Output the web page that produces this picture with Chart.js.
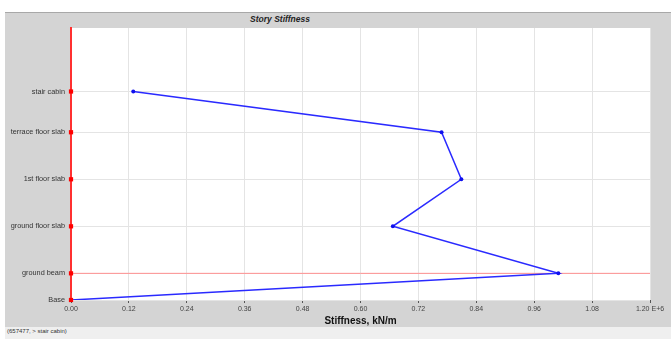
<!DOCTYPE html>
<html>
<head>
<meta charset="utf-8">
<script src="https://cdn.jsdelivr.net/npm/chart.js@4.4.1/dist/chart.umd.min.js"></script>
<style>
    html, body { margin: 0; padding: 0; background: #ffffff; width: 671px; height: 339px; overflow: hidden; }
    #panel { position: absolute; left: 5px; top: 12px; width: 666px; height: 315px; background: #d4d4d4; border-top: 1px solid #a8a8a8; box-sizing: border-box; }
    #status { position: absolute; left: 5px; top: 327px; width: 666px; height: 12px; background: #efefef; font: 6px "Liberation Sans", Arial, sans-serif; color: #333; padding-left: 2px; line-height: 9px; box-sizing: border-box; }
    #title { position: absolute; top: 14px; left: 230px; width: 100px; text-align: center; font: italic bold 8.5px "Liberation Sans", Arial, sans-serif; color: #222; }
    #chart { position: absolute; left: 0; top: 0; }
</style>
</head>
<body>
<div id="panel"></div>
<div id="title">Story Stiffness</div>
<div id="status">(657477, &gt; stair cabin)</div>
<canvas id="chart" width="671" height="339"></canvas>
<script>
// story names, bottom to top, and their elevations (m)
const storyNames = ['Base', 'ground beam', 'ground floor slab', '1st floor slab', 'terrace floor slab', 'stair cabin'];
const storyElevations = [0, 1.7, 4.7, 7.7, 10.7, 13.3];
// story stiffness, kN/m
const stiffness = [0, 1010000, 667000, 809000, 768000, 129000];
const xTickValues = [0, 120000, 240000, 360000, 480000, 600000, 720000, 840000, 960000, 1080000, 1200000];

const FONT = '"Liberation Sans", Arial, sans-serif';

// white plot background
const plotBackground = {
    id: 'plotBackground',
    beforeDraw(chart) {
        const { ctx, chartArea: a } = chart;
        ctx.save();
        ctx.fillStyle = '#ffffff';
        ctx.fillRect(a.left, a.top, a.right - a.left, a.bottom - a.top);
        ctx.restore();
    }
};

const stiffPoints = storyElevations.map((y, i) => ({ x: stiffness[i], y: y }));
const basePoints = storyElevations.map(y => ({ x: 0, y: y }));
const beamLine = [
    { x: xTickValues[0], y: storyElevations[1] },
    { x: xTickValues[xTickValues.length - 1], y: storyElevations[1] }
];

new Chart(document.getElementById('chart'), {
    type: 'scatter',
    data: {
        datasets: [
            {
                label: 'ground beam',
                data: beamLine,
                order: 3,
                showLine: true,
                borderColor: '#ff9090',
                borderWidth: 1,
                pointRadius: 0
            },
            {
                label: 'stiffness',
                data: stiffPoints,
                order: 2,
                showLine: true,
                borderColor: '#2a2aff',
                backgroundColor: '#1010ee',
                borderWidth: 1.5,
                pointRadius: 2,
                pointBorderWidth: 0
            },
            {
                label: 'stories',
                data: basePoints,
                order: 1,
                showLine: false,
                clip: false,
                pointStyle: 'rect',
                pointRadius: 3,
                backgroundColor: '#ff0000',
                borderColor: '#ff0000',
                pointBorderWidth: 0
            }
        ]
    },
    options: {
        responsive: false,
        animation: false,
        devicePixelRatio: 1,
        layout: { padding: { top: 28, right: 21, bottom: 12, left: 0 } },
        plugins: {
            legend: { display: false },
            tooltip: { enabled: false },
            title: { display: false }
        },
        scales: {
            x: {
                type: 'linear',
                min: 0,
                max: 1200000,
                afterFit: scale => { scale.height = 27; },
                afterBuildTicks: scale => { scale.ticks = xTickValues.map(v => ({ value: v })); },
                border: { display: false },
                grid: {
                    color: '#e4e4e4',
                    lineWidth: 1,
                    drawTicks: true,
                    tickLength: 3,
                    tickColor: '#555'
                },
                ticks: {
                    padding: 2,
                    maxRotation: 0,
                    autoSkip: false,
                    color: '#444',
                    font: { family: FONT, size: 7 },
                    callback: (v, i) => (v / 1e6).toFixed(2) + (i === xTickValues.length - 1 ? ' E+6' : '')
                },
                title: {
                    display: true,
                    text: 'Stiffness, kN/m',
                    color: '#111',
                    font: { family: FONT, size: 10, weight: 'bold' },
                    padding: { top: 0, bottom: 0 }
                }
            },
            y: {
                type: 'linear',
                min: 0,
                max: 17.35,
                afterFit: scale => { scale.width = 71; },
                afterBuildTicks: scale => { scale.ticks = storyElevations.map(v => ({ value: v })); },
                border: { display: true, color: '#ff3030', width: 2 },
                grid: {
                    color: '#e4e4e4',
                    lineWidth: 1,
                    drawTicks: false
                },
                ticks: {
                    padding: 6,
                    autoSkip: false,
                    color: '#333',
                    font: { family: FONT, size: 7.3 },
                    callback: (v, i) => storyNames[i]
                }
            }
        }
    },
    plugins: [plotBackground]
});
</script>
</body>
</html>
